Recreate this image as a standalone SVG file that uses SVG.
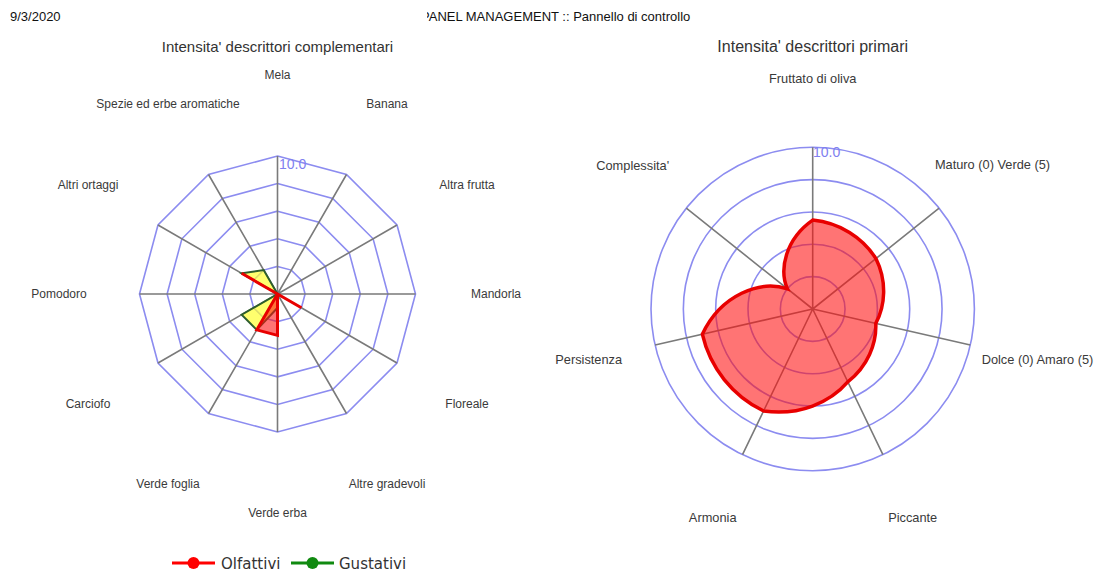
<svg xmlns="http://www.w3.org/2000/svg" width="1100" height="576" viewBox="0 0 1100 576">
<defs>
<style>
.hdr{font-family:"Liberation Sans",Arial,sans-serif;font-size:13px;fill:#111}
.title{font-family:"Liberation Sans",Arial,sans-serif;font-size:15px;fill:#333;text-anchor:middle}
.lbl{font-family:"Liberation Sans",Arial,sans-serif;font-size:12px;fill:#3a3a3a;text-anchor:middle}
.lblr{font-family:"Liberation Sans",Arial,sans-serif;font-size:12.8px;fill:#3a3a3a;text-anchor:middle}
.ring{fill:none;stroke:#8c8cf0;stroke-width:1.6}
.axis{stroke:#7a7a7a;stroke-width:1.6}
.max{font-family:"Liberation Sans",Arial,sans-serif;font-size:14px;fill:#8080f0}
.red{fill:#ff1010;fill-opacity:0.58;stroke:#e80000;stroke-width:3;stroke-linejoin:miter}
.grn{fill:#ffff30;fill-opacity:0.7;stroke:#2d5e2d;stroke-width:2;stroke-linejoin:miter}
.leg{font-family:"DejaVu Sans",Verdana,sans-serif;font-size:15px;fill:#333}
</style>
<clipPath id="hclip"><rect x="427" y="0" width="400" height="30"/></clipPath>
</defs>
<rect width="1100" height="576" fill="#ffffff"/>

<g id="header">
<text class="hdr" x="10" y="21">9/3/2020</text>
<text class="hdr" x="421" y="21" clip-path="url(#hclip)">PANEL MANAGEMENT :: Pannello di controllo</text>
</g>

<g id="chart-complementari">
<text class="title" x="277.5" y="52">Intensita' descrittori complementari</text>
<g id="grid-left" transform="translate(277.5,294)">
<polygon class="ring" points="0,-138 69,-119.5 119.5,-69 138,0 119.5,69 69,119.5 0,138 -69,119.5 -119.5,69 -138,0 -119.5,-69 -69,-119.5"/>
<polygon class="ring" points="0,-110.4 55.2,-95.6 95.6,-55.2 110.4,0 95.6,55.2 55.2,95.6 0,110.4 -55.2,95.6 -95.6,55.2 -110.4,0 -95.6,-55.2 -55.2,-95.6"/>
<polygon class="ring" points="0,-82.8 41.4,-71.7 71.7,-41.4 82.8,0 71.7,41.4 41.4,71.7 0,82.8 -41.4,71.7 -71.7,41.4 -82.8,0 -71.7,-41.4 -41.4,-71.7"/>
<polygon class="ring" points="0,-55.2 27.6,-47.8 47.8,-27.6 55.2,0 47.8,27.6 27.6,47.8 0,55.2 -27.6,47.8 -47.8,27.6 -55.2,0 -47.8,-27.6 -27.6,-47.8"/>
<polygon class="ring" points="0,-27.6 13.8,-23.9 23.9,-13.8 27.6,0 23.9,13.8 13.8,23.9 0,27.6 -13.8,23.9 -23.9,13.8 -27.6,0 -23.9,-13.8 -13.8,-23.9"/>
<path class="axis" d="M0,0L0,-138M0,0L69,-119.5M0,0L119.5,-69M0,0L138,0M0,0L119.5,69M0,0L69,119.5M0,0L0,138M0,0L-69,119.5M0,0L-119.5,69M0,0L-138,0M0,0L-119.5,-69M0,0L-69,-119.5"/>
</g>
<text class="max" x="279" y="169">10.0</text>
<g id="series-left" transform="translate(277.5,294)">
<polygon id="gustativi-left" class="grn" points="0,0 0,13.8 -20.7,35.85 -35.85,20.7 0,0 -35.85,-20.7 -13.8,-23.9 0,0"/>
<polygon id="olfattivi-left" class="red" points="0,0 23.9,13.8 0,0 0,41.4 -20.7,35.85 0,0 -35.85,-20.7 0,0"/>
</g>
<g id="labels-left">
<text class="lbl" x="277.5" y="79">Mela</text>
<text class="lbl" x="387" y="108">Banana</text>
<text class="lbl" x="467" y="188.5">Altra frutta</text>
<text class="lbl" x="496" y="298">Mandorla</text>
<text class="lbl" x="467" y="407.5">Floreale</text>
<text class="lbl" x="387" y="487.5">Altre gradevoli</text>
<text class="lbl" x="277.5" y="517">Verde erba</text>
<text class="lbl" x="168" y="487.5">Verde foglia</text>
<text class="lbl" x="88" y="407.5">Carciofo</text>
<text class="lbl" x="59" y="298">Pomodoro</text>
<text class="lbl" x="88" y="188.5">Altri ortaggi</text>
<text class="lbl" x="168" y="108">Spezie ed erbe aromatiche</text>
</g>
</g>

<g id="chart-primari">
<text class="title" x="812.7" y="52" style="font-size:16px">Intensita' descrittori primari</text>
<g id="grid-right" transform="translate(812.7,309)">
<circle class="ring" r="161.7"/>
<circle class="ring" r="129.36"/>
<circle class="ring" r="97.02"/>
<circle class="ring" r="64.68"/>
<circle class="ring" r="32.34"/>
<path class="axis" d="M0,0L0,-161.7M0,0L126.4,-100.8M0,0L157.6,36M0,0L70.2,145.7M0,0L-70.2,145.7M0,0L-157.6,36M0,0L-126.4,-100.8"/>
</g>
<text class="max" x="813" y="157">10.0</text>
<g id="series-right">
<path id="olfattivi-right" class="red" style="stroke-width:3.5" d="M812.7,220.1 C839.76,222.78 862.66,237.68 875.91,258.59 C887.05,281.19 885.41,305.4 875.78,323.4 C876.65,343.79 867.61,366.32 847.78,381.85 C830.29,402.25 799.31,416.22 763.58,410.99 C732.53,396.04 710.01,367.79 702.34,334.19 C720.96,294.59 760.24,279.73 787.45,288.86 C778.83,269.4 785.64,238.97 812.7,220.1 Z"/>
</g>
<g id="labels-right">
<text class="lblr" x="812.7" y="83">Fruttato di oliva</text>
<text class="lblr" x="992.5" y="169">Maturo (0) Verde (5)</text>
<text class="lblr" x="1037.5" y="364">Dolce (0) Amaro (5)</text>
<text class="lblr" x="912.7" y="522">Piccante</text>
<text class="lblr" x="712.7" y="522">Armonia</text>
<text class="lblr" x="588.7" y="364">Persistenza</text>
<text class="lblr" x="632.7" y="170">Complessita'</text>
</g>
</g>

<g id="legend">
<g id="legend-olfattivi">
<line x1="172" y1="563" x2="215" y2="563" stroke="#ff0000" stroke-width="3"/>
<circle cx="193.5" cy="563" r="6" fill="#ff0000"/>
<text class="leg" x="221" y="568.5">Olfattivi</text>
</g>
<g id="legend-gustativi">
<line x1="291" y1="563" x2="334" y2="563" stroke="#108a10" stroke-width="3"/>
<circle cx="312.5" cy="563" r="6" fill="#108a10"/>
<text class="leg" x="339" y="568.5">Gustativi</text>
</g>
</g>
</svg>
